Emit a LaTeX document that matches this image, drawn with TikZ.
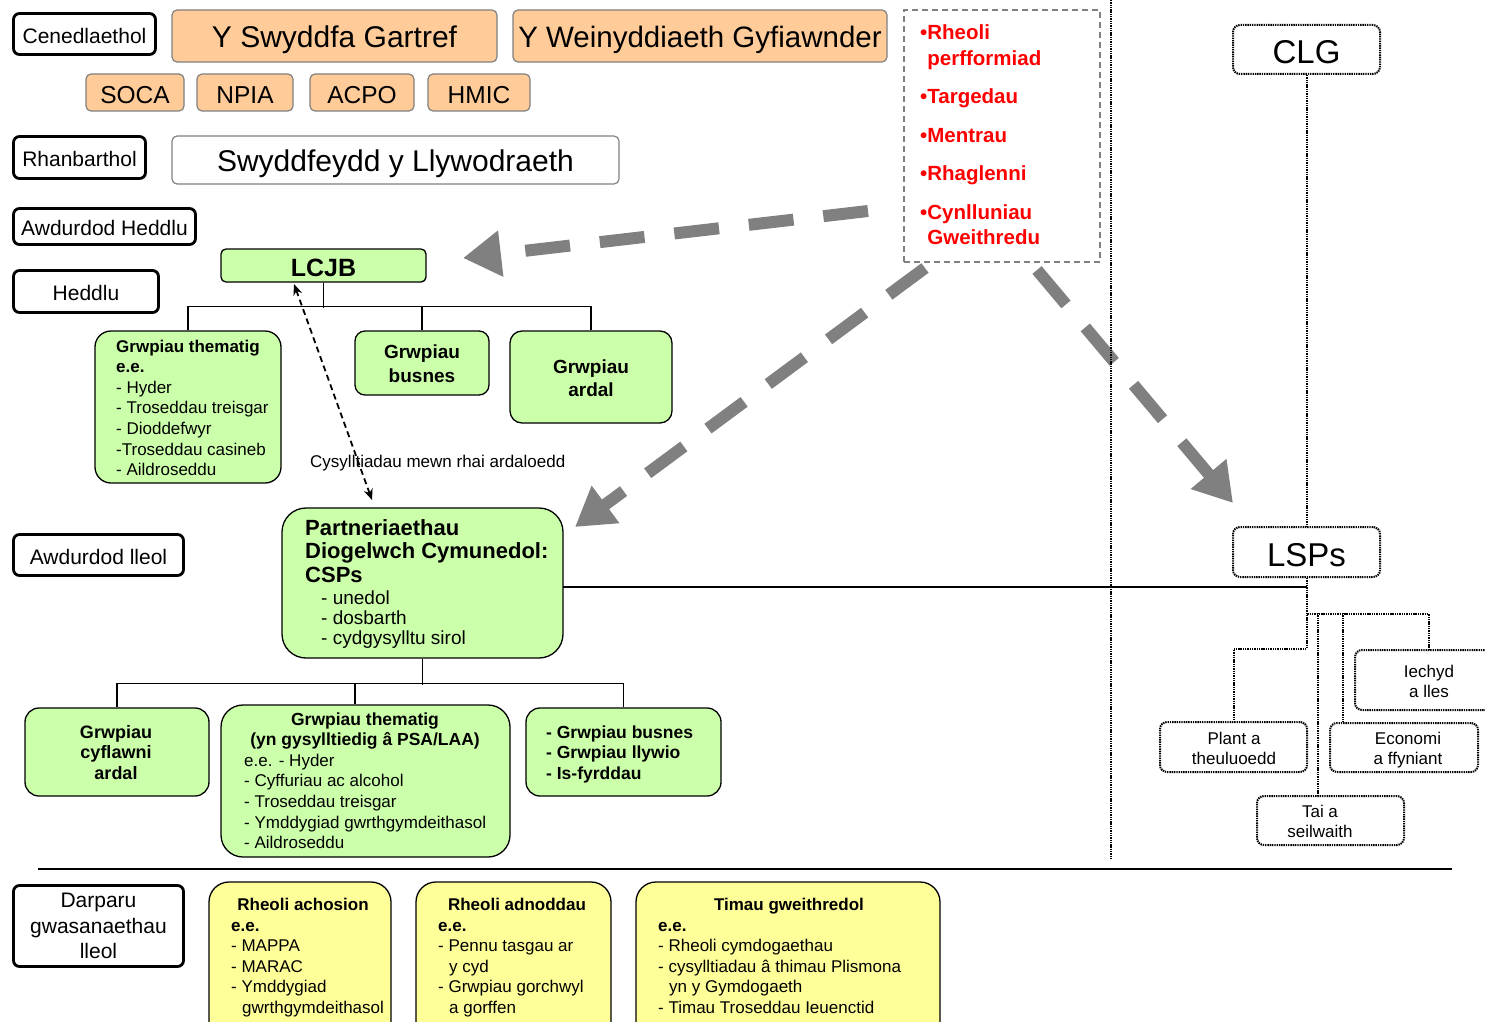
\documentclass[tikz,border=0pt]{standalone}
\usepackage{fontspec}
\setmainfont{Liberation Sans}
\usetikzlibrary{arrows.meta,calc}
\definecolor{orF}{RGB}{255,204,153}
\definecolor{grF}{RGB}{204,255,170}
\definecolor{yeF}{RGB}{255,255,153}
\definecolor{grayL}{RGB}{128,128,128}
\newcommand\myfs[2]{\fontsize{#1}{#2}\selectfont}
\newcommand\mystrut{\rule[-0.12em]{0pt}{1.1em}}
\newcommand\mytab[2]{\begin{tabular}[t]{@{}#1@{}}#2\end{tabular}}
\newcommand\bx[7]{\node[#6,minimum width={#4-#2},minimum height={#5-#3}] (#1) at ({(#2+#4)/2},{(#3+#5)/2}) {#7};}
\begin{document}
\begin{tikzpicture}[x=1pt,y=-1pt,
  lbl/.style={draw=black,line width=2.8pt,rounded corners=6pt,fill=white,inner sep=0pt,font=\myfs{21}{25.5},align=center},
  org/.style={draw=grayL,line width=1.2pt,rounded corners=5pt,fill=orF,inner sep=0pt},
  grn/.style={draw=black,line width=1.3pt,fill=grF,inner sep=0pt,rounded corners=12pt},
  yel/.style={draw=black,line width=1.3pt,fill=yeF,inner sep=0pt,rounded corners=20pt},
  dotbox/.style={draw=black,line width=2pt,dash pattern=on 1.4pt off 0.9pt,rounded corners=7pt,fill=white,inner sep=0pt},
  dotln/.style={draw=black,line width=2pt,dash pattern=on 1.4pt off 0.9pt},
  tree/.style={draw=black,line width=1.2pt},
  bigarr/.style={draw=grayL,line width=12pt,dash pattern=on 45pt off 30pt,-{Triangle[length=38pt,width=44pt]}},
  linkarr/.style={draw=black,line width=1.8pt,dash pattern=on 6pt off 4pt,{Stealth[length=11pt,width=9pt]}-{Stealth[length=11pt,width=9pt]}},
  txt/.style={inner sep=0pt}]
\path[use as bounding box] (0,0) rectangle (1485,1022);
\clip (0,0) rectangle (1485,1022);

% level labels
\bx{cen}{13.5}{13.5}{155.5}{54.5}{lbl}{\mystrut Cenedlaethol}
\bx{rhan}{13.5}{136.5}{145.5}{178.5}{lbl}{\mystrut Rhanbarthol}
\bx{awh}{13.5}{208.5}{195.5}{244.5}{lbl}{\mystrut Awdurdod Heddlu}
\bx{hed}{13.5}{270.5}{158.5}{312.5}{lbl}{\mystrut Heddlu}
\bx{awl}{13.5}{534.5}{183.5}{575.5}{lbl}{\mystrut Awdurdod lleol}
\bx{dar}{13.5}{885.5}{183.5}{966.5}{lbl}{Darparu\\gwasanaethau\\lleol}

% national
\bx{ysg}{172}{10}{497}{62}{org,font=\myfs{30}{36}}{\mystrut Y Swyddfa Gartref}
\bx{ywg}{513}{10}{887}{62}{org,font=\myfs{29.5}{36}}{\mystrut Y Weinyddiaeth Gyfiawnder}
\bx{soca}{86}{74}{184}{111}{org,font=\myfs{24.5}{30}}{\mystrut SOCA}
\bx{npia}{197}{74}{293}{111}{org,font=\myfs{24.5}{30}}{\mystrut NPIA}
\bx{acpo}{310}{74}{414}{111}{org,font=\myfs{24.5}{30}}{\mystrut ACPO}
\bx{hmic}{428}{74}{530}{111}{org,font=\myfs{24.5}{30}}{\mystrut HMIC}
\bx{syl}{172}{136}{619}{184}{org,fill=white,font=\myfs{30}{36}}{\mystrut Swyddfeydd y Llywodraeth}

% red box
\bx{rb}{904}{10}{1100}{262}{draw=grayL,line width=1.8pt,dash pattern=on 6pt off 4pt,inner sep=0pt}{}
\node[txt,anchor=base west,font=\myfs{20.5}{25.5}\bfseries,text=red] (rbt) at (920,40)
  {\mytab{l}{•Rheoli\\\phantom{•}perfformiad\\[13pt]•Targedau\\[13pt]•Mentrau\\[13pt]•Rhaglenni\\[13pt]•Cynlluniau\\\phantom{•}Gweithredu}};

% LCJB tree
\bx{lcjb}{221}{249}{426}{282}{grn,rounded corners=5pt,font=\myfs{25}{30}\bfseries}{\mystrut LCJB}
\bx{gt1}{95}{331}{281}{483}{grn,rounded corners=16pt}{}
\node[txt,anchor=base west,font=\myfs{17}{20.6}] (gt1t) at (116,352)
  {\mytab{l}{\textbf{Grwpiau thematig}\\\textbf{e.e.}\\- Hyder\\- Troseddau treisgar\\- Dioddefwyr\\-Troseddau casineb\\- Aildroseddu}};
\bx{gbus}{355}{331}{489}{395}{grn,rounded corners=10pt}{}
\node[txt,anchor=base,font=\myfs{19}{24}\bfseries] (gbust) at (422,358) {\mytab{c}{Grwpiau\\busnes}};
\bx{gard}{510}{331}{672}{423}{grn,rounded corners=12pt}{}
\node[txt,anchor=base,font=\myfs{19}{23}\bfseries] (gardt) at (591,373) {\mytab{c}{Grwpiau\\ardal}};
\draw[tree] (lcjb.south) -- ++(0,25);
\draw[tree] (gt1.north) -- ++(0,-24) -| (gard.north);
\draw[tree] (gbus.north) -- ++(0,-24);

\node[txt,anchor=base west,font=\myfs{17}{20}] (cys) at (310,467) {Cysylltiadau mewn rhai ardaloedd};

% CSP
\bx{csp}{282}{508}{563}{658}{grn,rounded corners=24pt}{}
\node[txt,anchor=base west,font=\myfs{22}{23.5}\bfseries] (cspt) at (305,535)
  {\mytab{l}{Partneriaethau\\Diogelwch Cymunedol:\\CSPs}};
\node[txt,anchor=base west,font=\myfs{19}{20}] (cspl) at (321,604)
  {\mytab{l}{- unedol\\- dosbarth\\- cydgysylltu sirol}};

\bx{cyf}{25}{708}{209}{796}{grn,rounded corners=14pt}{}
\node[txt,anchor=base,font=\myfs{18}{20.5}\bfseries] (cyft) at (116,738) {\mytab{c}{Grwpiau\\cyflawni\\ardal}};
\bx{gt2}{221}{705}{510}{857}{grn,rounded corners=22pt}{}
\node[txt,anchor=base,font=\myfs{17.5}{20}\bfseries] (gt2h) at (365,725)
  {\mytab{c}{Grwpiau thematig\\(yn gysylltiedig â PSA/LAA)}};
\node[txt,anchor=base west,font=\myfs{17}{20.7}] (gt2t) at (244,766)
  {\mytab{l}{e.e. - Hyder\\- Cyffuriau ac alcohol\\- Troseddau treisgar\\- Ymddygiad gwrthgymdeithasol\\- Aildroseddu}};
\bx{bus2}{526}{708}{721}{796}{grn,rounded corners=14pt}{}
\node[txt,anchor=base west,font=\myfs{17.5}{20.5}\bfseries] (bus2t) at (546,738)
  {\mytab{l}{- Grwpiau busnes\\- Grwpiau llywio\\- Is-fyrddau}};
\draw[tree] (csp.south) -- ++(0,26);
\draw[tree] (cyf.north) -- ++(0,-24) -| (bus2.north);
\coordinate (g2s) at (355,684);
\draw[tree] (g2s) -- (g2s |- gt2.north);

% separator
\coordinate (sl) at (38,869);
\coordinate (sr) at (1452,869);
\draw[line width=1.2pt] (sl) -- (sr);

% local services (yellow)
\bx{ya}{209}{882}{391}{1050}{yel}{}
\node[txt,anchor=base,font=\myfs{17}{20.5}\bfseries] (yat) at (303,910) {Rheoli achosion};
\node[txt,anchor=base west,font=\myfs{17}{20.5}] (yal) at (231,931)
  {\mytab{l}{\textbf{e.e.}\\- MAPPA\\- MARAC\\- Ymddygiad\\\hspace*{11pt}gwrthgymdeithasol}};
\bx{yb}{416}{882}{611}{1050}{yel}{}
\node[txt,anchor=base,font=\myfs{17}{20.5}\bfseries] (ybt) at (517,910) {Rheoli adnoddau};
\node[txt,anchor=base west,font=\myfs{17}{20.5}] (ybl) at (438,931)
  {\mytab{l}{\textbf{e.e.}\\- Pennu tasgau ar\\\hspace*{11pt}y cyd\\- Grwpiau gorchwyl\\\hspace*{11pt}a gorffen}};
\bx{yc}{636}{882}{940}{1050}{yel}{}
\node[txt,anchor=base,font=\myfs{17}{20.5}\bfseries] (yct) at (789,910) {Timau gweithredol};
\node[txt,anchor=base west,font=\myfs{17}{20.5}] (ycl) at (658,931)
  {\mytab{l}{\textbf{e.e.}\\- Rheoli cymdogaethau\\- cysylltiadau â thimau Plismona\\\hspace*{11pt}yn y Gymdogaeth\\- Timau Troseddau Ieuenctid}};

% link arrow
\coordinate (l1) at (294,284);
\coordinate (l2) at (372,500);
\draw[linkarr] (l1) -- (l2);

% big grey arrows
\coordinate (a1s) at (868,211); \coordinate (a1e) at (463,258);
\coordinate (a2s) at (925,268); \coordinate (a2e) at (575,527);
\coordinate (a3s) at (1037,270); \coordinate (a3e) at (1233,503);
\draw[bigarr] (a1s) -- (a1e);
\draw[bigarr] (a2s) -- (a2e);
\draw[bigarr] (a3s) -- (a3e);

% right side
\coordinate (vt) at (1111,0);
\coordinate (vb) at (1111,858);
\draw[dotln,line width=2.4pt] (vt) -- (vb);
\bx{clg}{1233}{25}{1380}{74}{dotbox,font=\myfs{33}{40}}{\mystrut CLG}
\bx{lsp}{1233}{527}{1380}{577}{dotbox,font=\myfs{33}{40}}{\mystrut LSPs}
\draw[dotln] (clg.south) -- (lsp.north);
\coordinate (cspr) at (563,587);
\draw[tree] (cspr) -- (cspr -| lsp.south);

\bx{plant}{1160}{722}{1307}{772}{dotbox}{}
\bx{eco}{1330}{723}{1478}{772}{dotbox}{}
\bx{iech}{1355}{650}{1503}{710}{dotbox}{}
\bx{tai}{1257}{796}{1404}{845}{dotbox}{}
\node[txt,anchor=base,font=\myfs{17}{20}] (plantt) at (1234,744) {\mytab{c}{Plant a\\theuluoedd}};
\node[txt,anchor=base,font=\myfs{17}{20}] (ecot) at (1408,744) {\mytab{c}{Economi\\a ffyniant}};
\node[txt,anchor=base,font=\myfs{17}{20}] (iecht) at (1429,677) {\mytab{c}{Iechyd\\a lles}};
\node[txt,anchor=base,font=\myfs{17}{20}] (tait) at (1320,817) {\mytab{c}{Tai a\\seilwaith}};
\draw[dotln] (lsp.south) -- ++(0,71) -| (plant.north);
\draw[dotln] (lsp.south) -- ++(0,36) -| (iech.north);
\coordinate (jt) at (1318,613);
\coordinate (je) at (1343,613);
\draw[dotln] (jt) -- (jt |- tai.north);
\draw[dotln] (je) -- (je |- eco.north);
\end{tikzpicture}
\end{document}
